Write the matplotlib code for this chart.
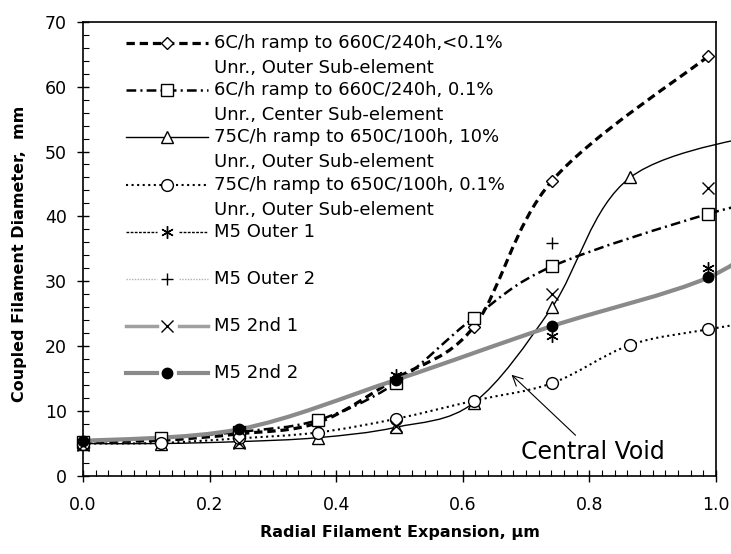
import numpy as np
import matplotlib.pyplot as plt
from matplotlib.path import Path
from matplotlib.patches import PathPatch
from matplotlib.ticker import MultipleLocator

plt.rcParams['font.family'] = ['DejaVu Sans']
plt.rcParams['lines.scale_dashes'] = False

nan = np.nan

# radial filament expansion (um), same x for every series
x = [0.0, 0.1235, 0.247, 0.3705, 0.494, 0.6175, 0.741, 0.8645, 0.988, 1.1115]

# coupled filament diameter
ramp6_outer = [5.3, 5.5, 6.5, 8.2, 15.0, 23.0, 45.5, nan, 64.7, nan]
ramp6_center = [5.3, 5.9, 6.8, 8.6, 14.3, 24.4, 32.3, nan, 40.4, 43.0]
ramp75_10 = [5.0, 5.0, 5.3, 5.9, 7.5, 11.3, 26.0, 46.0, nan, 53.5]
ramp75_01 = [5.0, 5.1, 5.8, 6.7, 8.8, 11.6, 14.3, 20.2, 22.6, 24.5]
m5_outer1 = [nan, nan, nan, nan, 15.5, nan, 21.6, nan, 32.0, nan]
m5_outer2 = [nan, nan, nan, nan, nan, nan, 35.9, nan, nan, nan]
m5_2nd1 = [4.8, nan, 5.1, nan, 7.7, nan, 28.0, nan, 44.4, nan]
m5_2nd2 = [5.4, nan, 7.2, nan, 14.8, nan, 23.1, nan, 30.6, 39.0]

legend_text = [
    ("6C/h ramp to 660C/240h,<0.1%", "Unr., Outer Sub-element"),
    ("6C/h ramp to 660C/240h, 0.1%", "Unr., Center Sub-element"),
    ("75C/h ramp to 650C/100h, 10%", "Unr., Outer Sub-element"),
    ("75C/h ramp to 650C/100h, 0.1%", "Unr., Outer Sub-element"),
    ("M5 Outer 1",),
    ("M5 Outer 2",),
    ("M5 2nd 1",),
    ("M5 2nd 2",),
]


def smooth_path(xs, ys):
    """Excel-style smoothed line: Catmull-Rom through the points as cubic Beziers."""
    pts = np.array([(a, b) for a, b in zip(xs, ys) if not np.isnan(b)])
    verts = [pts[0]]
    codes = [Path.MOVETO]
    for i in range(len(pts) - 1):
        p0 = pts[i - 1] if i > 0 else pts[i]
        p1, p2 = pts[i], pts[i + 1]
        p3 = pts[i + 2] if i + 2 < len(pts) else pts[i + 1]
        verts += [p1 + (p2 - p0) / 6, p2 - (p3 - p1) / 6, p2]
        codes += [Path.CURVE4] * 3
    return Path(verts, codes)


fig = plt.figure(figsize=(7.31, 5.54), dpi=100)
ax = fig.add_axes([0.1135, 0.1408, 0.866, 0.820])

# series styles: (values, line kwargs or None, marker kwargs)
open_mk = dict(mfc="white", mec="black", mew=1.0)
series = [
    (ramp6_outer, dict(color="black", lw=2.3, ls=(0, (6, 3.5))), dict(marker="D", ms=6.5, **open_mk)),
    (ramp6_center, dict(color="black", lw=1.8, ls=(0, (7, 3, 1.5, 3))), dict(marker="s", ms=8.5, **open_mk)),
    (ramp75_10, dict(color="black", lw=1.0, ls="-"), dict(marker="^", ms=9, **open_mk)),
    (ramp75_01, dict(color="black", lw=1.5, ls=(0, (1.5, 2.5))), dict(marker="o", ms=8.5, **open_mk)),
    (m5_outer1, None, dict(marker=(6, 2, 0), ms=9, mec="black", mew=1.0)),
    (m5_outer2, None, dict(marker="+", ms=9, mec="black", mew=1.0)),
    (m5_2nd1, None, dict(marker="x", ms=8, mec="black", mew=1.0)),
    (m5_2nd2, dict(color="#8a8a8a", lw=3.0, ls="-"), dict(marker="o", ms=7.5, mfc="black", mec="black")),
]

for k, (ys, lkw, mkw) in enumerate(series):
    if lkw is not None:
        patch = PathPatch(smooth_path(x, ys), fill=False, ec=lkw["color"], lw=lkw["lw"],
                          ls=lkw["ls"], clip_on=False, zorder=2 + 0.05 * k)
        ax.add_patch(patch)
    ax.plot(x, ys, ls="none", clip_on=False, zorder=3 + 0.05 * k, **mkw)

ax.set_xlim(0, 1.0)
ax.set_ylim(0, 70)
ax.xaxis.set_major_locator(MultipleLocator(0.2))
ax.xaxis.set_minor_locator(MultipleLocator(0.02))
ax.yaxis.set_major_locator(MultipleLocator(10))
ax.yaxis.set_minor_locator(MultipleLocator(2))
ax.xaxis.set_major_formatter(plt.FormatStrFormatter("%.1f"))
ax.tick_params(which="major", direction="inout", length=9, width=1.0, labelsize=12.5)
ax.tick_params(which="minor", direction="in", length=4, width=0.8)
ax.tick_params(axis="x", pad=10)
ax.tick_params(axis="y", pad=7)
for s in ax.spines.values():
    s.set_linewidth(1.2)

ax.set_xlabel("Radial Filament Expansion, \u00b5m", fontsize=11.5, fontweight="bold")
ax.set_ylabel("Coupled Filament Diameter,  mm", fontsize=11.5, fontweight="bold")
ax.xaxis.set_label_coords(0.5, -0.108)
ax.yaxis.set_label_coords(-0.089, 0.49)

ax.annotate("Central Void", xy=(0.677, 15.6), xytext=(0.806, 3.7),
            ha="center", va="center", fontsize=17,
            arrowprops=dict(arrowstyle="->", lw=0.8, color="black",
                            mutation_scale=18, shrinkA=2, shrinkB=0))

# hand-placed legend (handle aligned to the first line of each label)
ax_h = 454.3
x0, x1, xm, xt = 0.068, 0.1975, 0.1327, 0.207
for i, ((ys, lkw, mkw), lines) in enumerate(zip(series, legend_text)):
    ypx = 43 + 47.2 * i
    yy = (476 - ypx) / ax_h
    if i < 4:
        ax.plot([x0, x1], [yy, yy], transform=ax.transAxes, clip_on=False,
                color=lkw["color"], lw=lkw["lw"], ls=lkw["ls"], zorder=4)
    else:
        leg_lines = [dict(color="black", lw=1.0, ls=(0, (2, 1))),
                     dict(color="#b0b0b0", lw=1.0, ls=(0, (1, 1))),
                     dict(color="#a0a0a0", lw=2.5, ls="-"),
                     dict(color="#8a8a8a", lw=3.0, ls="-")][i - 4]
        for a, b in [(x0, 0.117), (0.152, x1)]:
            ax.plot([a, b], [yy, yy], transform=ax.transAxes, clip_on=False, zorder=4, **leg_lines)
    ax.plot([xm], [yy], transform=ax.transAxes, clip_on=False, ls="none", zorder=5, **mkw)
    ax.text(xt, yy, lines[0], transform=ax.transAxes, fontsize=13, va="center", ha="left")
    if len(lines) > 1:
        ax.text(xt, yy - 25 / ax_h, lines[1], transform=ax.transAxes, fontsize=13,
                va="center", ha="left")

fig.savefig("out.png", dpi=100)
